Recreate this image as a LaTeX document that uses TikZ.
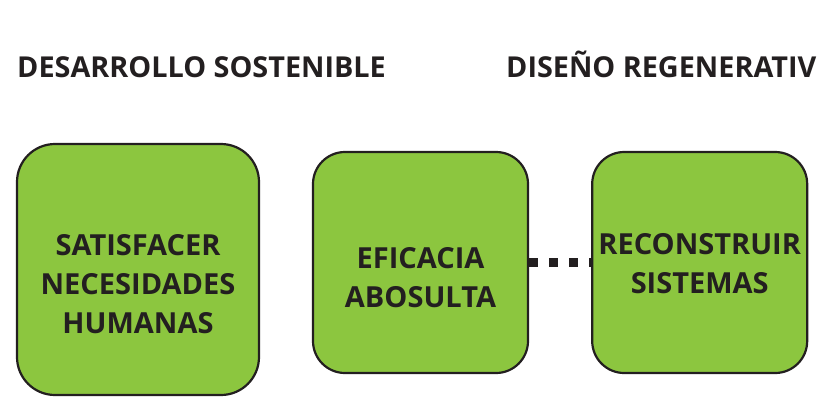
\documentclass[tikz,border=0pt]{standalone}
\usepackage{fontspec}
\setmainfont{Open Sans}
\usepackage{tikz}
\usetikzlibrary{positioning}

\definecolor{hojaverde}{HTML}{8CC63F}
\definecolor{tinta}{HTML}{231F20}

\begin{document}
\begin{tikzpicture}[x = 1pt, y = -1pt,
    caja/.style = { draw = tinta, fill = hojaverde, line width = 2.2pt, rounded corners = 32pt, minimum width = 215pt, minimum height = 221pt },
    texto/.style = { align = center, text = tinta, font = \fontsize{29}{39}\selectfont\bfseries, inner sep = 0pt },
    titulo/.style = { anchor = base west, text = tinta, font = \fontsize{28.8}{35}\selectfont\bfseries, inner sep = 0pt }]
    \useasboundingbox (0,0) rectangle (820,400);

    \node [titulo] (sostenible) at (17,77) { DESARROLLO SOSTENIBLE };
    \node [titulo] (regenerativo) at (506,77) { DISEÑO REGENERATIV };

    \node [caja, minimum width = 242pt, minimum height = 251pt, rounded corners = 38pt] (satisfacer) at (138,269.5) {};
    \node [caja] (eficacia) at (420.5,262.5) {};
    \node [caja, right = 62pt of eficacia] (reconstruir) {};

    % la linea de puntos entre las dos cajas
    \draw [tinta, line width = 9pt, dash pattern = on 9pt off 11pt] (eficacia.east) -- (reconstruir.west);

    \node [texto] (t1) at ([yshift = -14.5pt] satisfacer.center) { SATISFACER \\ NECESIDADES \\ HUMANAS };
    \node [texto] (t2) at ([yshift = -15.5pt] eficacia.center) { EFICACIA \\ ABOSULTA };
    \node [texto] (t3) at ([yshift = -1.5pt] reconstruir.center) { RECONSTRUIR \\ SISTEMAS };
\end{tikzpicture}
\end{document}
